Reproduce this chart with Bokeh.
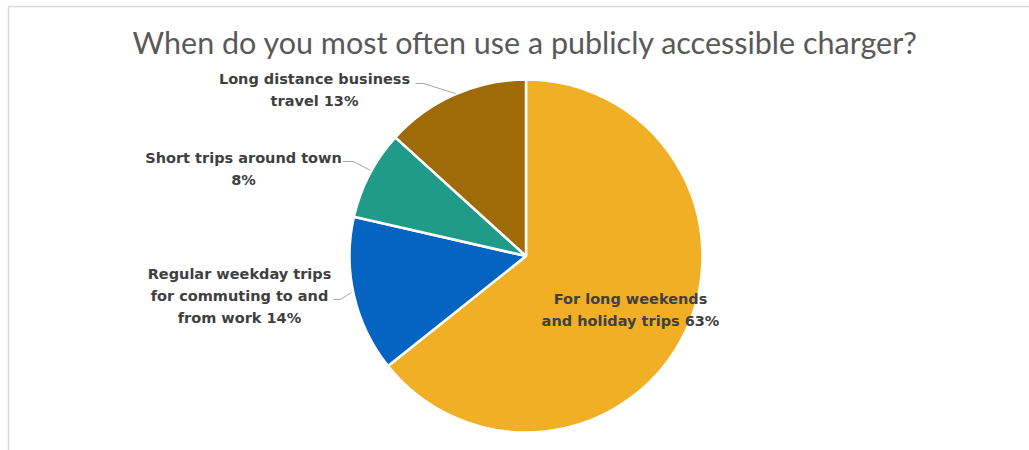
import math
from bokeh.plotting import figure
from bokeh.models import Range1d, ColumnDataSource
from bokeh.core.properties import value
from bokeh.embed import file_html
from bokeh.resources import INLINE

# ---- data ----
title = "When do you most often use a publicly accessible charger?"
categories = [
    "For long weekends and holiday trips",
    "Regular weekday trips for commuting to and from work",
    "Short trips around town",
    "Long distance business travel",
]
percents = [63, 14, 8, 13]
label_lines = [
    ["For long weekends", "and holiday trips 63%"],
    ["Regular weekday trips", "for commuting to and", "from work 14%"],
    ["Short trips around town", "8%"],
    ["Long distance business", "travel 13%"],
]
colors = ["#F1AF26", "#0563C1", "#209A89", "#9E6B08"]

W, H = 1029, 450
def Y(py):
    return H - py

p = figure(width=W, height=H, output_backend="svg", toolbar_location=None,
           x_range=Range1d(0, W), y_range=Range1d(0, H), min_border=0)
p.axis.visible = False
p.grid.visible = False
p.outline_line_color = None
p.background_fill_color = "white"
p.border_fill_color = "white"

# chart area border (top & left)
p.line([8, W], [Y(6), Y(6)], line_color="#D9D9D9", line_width=1.5)
p.line([8, 8], [Y(6), 0], line_color="#D9D9D9", line_width=1.5)

# title
p.text(x=[525], y=[Y(41)], text=[title], text_font=value("Lato"),
       text_font_size="30.5px", text_color="#595959",
       text_align="center", text_baseline="middle")

# pie
cx, cy, r = 525.5, Y(255.5), 176.5
total = sum(percents)
starts, ends = [], []
acc = 0.0
for v in percents:
    a0 = math.pi / 2 - 2 * math.pi * acc / total
    acc += v
    a1 = math.pi / 2 - 2 * math.pi * acc / total
    starts.append(a0)
    ends.append(a1)
src = ColumnDataSource(dict(start=starts, end=ends, color=colors, cat=categories, pct=percents))
p.wedge(x=cx, y=cy, radius=r, start_angle="start", end_angle="end", direction="clock",
        fill_color="color", line_color="white", line_width=2.5, source=src)

# leader lines
leaders = [
    ([333, 340, 351], [299, 299, 292]),
    ([342, 353, 370], [161, 161, 170]),
    ([415, 423, 455], [83, 83, 93]),
]
for xs, ys in leaders:
    p.line(xs, [Y(v) for v in ys], line_color="#A6A6A6", line_width=1)

# labels
anchors = [(630, 298), (239, 273), (243, 157), (314, 78)]
lh = 22
for lines, (ax, ay) in zip(label_lines, anchors):
    xs = [ax] * len(lines)
    ys = [Y(ay + i * lh) for i in range(len(lines))]
    p.text(x=xs, y=ys, text=lines, text_font=value("DejaVu Sans"),
           text_font_style="bold", text_font_size="14.5px", text_color="#404040",
           text_align="center", text_baseline="middle")

open("out.html", "w").write(file_html(p, INLINE))
